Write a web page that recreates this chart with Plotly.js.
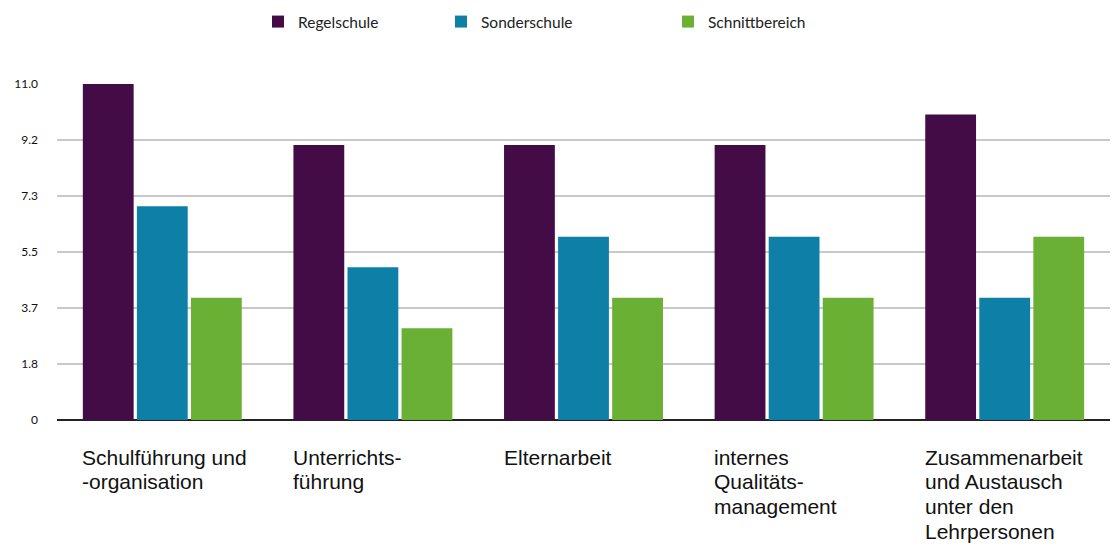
<!DOCTYPE html>
<html>
<head>
<meta charset="utf-8">
<script src="https://cdn.plot.ly/plotly-3.0.1.min.js"></script>
<style>html,body{margin:0;padding:0;background:#fff;}#chart{width:1113px;height:549px;}</style>
</head>
<body>
<div id="chart"></div>
<script>
const categoryKeys = ["Schulführung und -organisation", "Unterrichtsführung", "Elternarbeit", "internes Qualitätsmanagement", "Zusammenarbeit und Austausch unter den Lehrpersonen"];
const categoryLines = [
  ["Schulführung und", "-organisation"],
  ["Unterrichts-", "führung"],
  ["Elternarbeit"],
  ["internes", "Qualitäts-", "management"],
  ["Zusammenarbeit", "und Austausch", "unter den", "Lehrpersonen"]
];
const regelschule = [11, 9, 9, 9, 10];
const sonderschule = [7, 5, 6, 6, 4];
const schnittbereich = [4, 3, 4, 4, 6];
const seriesNames = ["Regelschule", "Sonderschule", "Schnittbereich"];
const tickValues = [0, 1.833, 3.667, 5.5, 7.333, 9.167, 11];
const tickLabels = ["0", "1.8", "3.7", "5.5", "7.3", "9.2", "11.0"];

const colors = ["#430c47", "#0e7fa6", "#69b034"];
const seriesData = [regelschule, sonderschule, schnittbereich];
const legendIds = ["legend", "legend2", "legend3"];
const legendX = [258, 441, 668];

const traces = seriesData.map((vals, i) => ({
  type: "bar",
  name: seriesNames[i],
  x: categoryKeys,
  y: vals,
  legend: legendIds[i],
  marker: {color: colors[i]},
  hoverinfo: "y+name"
}));

const annotations = [];
categoryKeys.forEach((k, i) => {
  categoryLines[i].forEach((line, j) => {
    annotations.push({
      x: k, xref: "x", y: 0, yref: "y",
      xanchor: "left", yanchor: "middle", align: "left",
      xshift: -82, yshift: -37 - j * 24.7,
      text: line, showarrow: false,
      font: {family: "Liberation Sans, Arial, sans-serif", size: 21, color: "#111"}
    });
  });
});

const legendBase = {
  orientation: "h", xref: "container", yref: "container", xanchor: "left", yanchor: "middle",
  y: 1 - 22 / 549, bgcolor: "rgba(0,0,0,0)", borderwidth: 0,
  font: {family: "Lato, sans-serif", size: 15.5, color: "#222"}, itemclick: false
};

const layout = {
  width: 1113, height: 549,
  margin: {l: 57, r: 3, t: 84, b: 129},
  paper_bgcolor: "#fff", plot_bgcolor: "#fff",
  barmode: "group", bargap: 0.23, bargroupgap: 0.06,
  showlegend: true,
  legend: Object.assign({}, legendBase, {x: legendX[0] / 1113}),
  legend2: Object.assign({}, legendBase, {x: legendX[1] / 1113}),
  legend3: Object.assign({}, legendBase, {x: legendX[2] / 1113}),
  xaxis: {showticklabels: false, showgrid: false, zeroline: false, showline: false, ticks: ""},
  yaxis: {range: [0, 11], tickvals: tickValues, ticktext: tickLabels, showgrid: true,
    gridcolor: "#c8c8c8", gridwidth: 1.5, zeroline: true, zerolinecolor: "#222", zerolinewidth: 2,
    showline: false, ticks: "", ticklabelstandoff: 18,
    tickfont: {family: "Lato, sans-serif", size: 12, color: "#111"}},
  annotations: annotations
};

Plotly.newPlot("chart", traces, layout, {displayModeBar: false, staticPlot: true});
</script>
</body>
</html>
